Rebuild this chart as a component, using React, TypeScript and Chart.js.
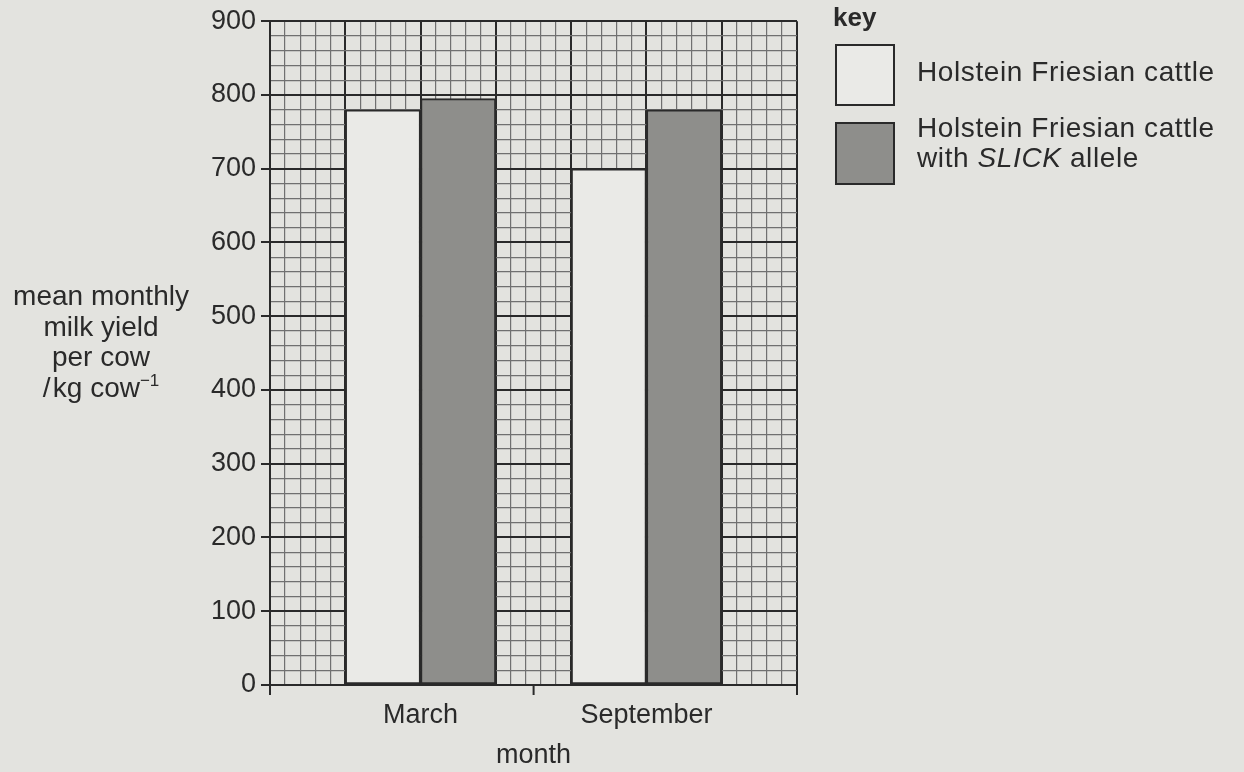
import React, { useEffect, useRef } from "react";
import { Chart, registerables } from "chart.js";

Chart.register(...registerables);

// ---- data ----
const months = ["March", "September"];
const holsteinValues = [780, 700];
const slickValues = [795, 780];
const seriesLabels = ["Holstein Friesian cattle", "Holstein Friesian cattle with SLICK allele"];
const yMax = 900;
const yMajorStep = 100;
const yMinorStep = 20;
// x runs over the 7 big grid columns of the graph paper
const gridColumns = 7;
const minorPerColumn = 5;
const monthColumns = [2, 5]; // where each month label sits on the grid
const xTickMarks = [0, 3.5, 7]; // tick marks drawn under the x axis

// ---- styles ----
const paper = "#e3e3df";
const ink = "#2a2a2a";
const minorLine = "#707070";
const whiteFill = "#eaeae7";
const greyFill = "#8e8e8b";
const family = "'Liberation Sans', Arial, Helvetica, sans-serif";

const yTickValues: number[] = [];
for (let v = 0; v <= yMax; v += yMinorStep) yTickValues.push(v);
const xTickValues: number[] = [];
for (let i = 0; i <= gridColumns * minorPerColumn; i++) {
  const v = i / minorPerColumn;
  xTickValues.push(v);
  if (v < 3.5 && (i + 1) / minorPerColumn > 3.5) xTickValues.push(3.5);
}

function App() {
  const ref = useRef<HTMLCanvasElement | null>(null);

  useEffect(() => {
    if (!ref.current) return;
    Chart.defaults.font.family = family;
    const chart = new Chart(ref.current, {
      type: "bar",
      data: {
        datasets: [
          {
            label: seriesLabels[0],
            data: months.map((_, i) => ({ x: monthColumns[i] - 0.5, y: holsteinValues[i] })),
            backgroundColor: whiteFill,
            borderColor: ink,
            borderWidth: 2,
            borderSkipped: false,
            barPercentage: 1,
            categoryPercentage: 1,
            grouped: false,
          } as any,
          {
            label: seriesLabels[1],
            data: months.map((_, i) => ({ x: monthColumns[i] + 0.5, y: slickValues[i] })),
            backgroundColor: greyFill,
            borderColor: ink,
            borderWidth: 2,
            borderSkipped: false,
            barPercentage: 1,
            categoryPercentage: 1,
            grouped: false,
          } as any,
        ],
      },
      options: {
        animation: false,
        responsive: false,
        devicePixelRatio: 1,
        layout: { padding: { top: 20, right: 447, left: 0, bottom: 0 } },
        plugins: { legend: { display: false }, tooltip: { enabled: false } },
        scales: {
          x: {
            type: "linear",
            min: 0,
            max: gridColumns,
            offset: false,
            display: false,
            grid: { offset: false },
            ticks: { stepSize: 1 },
          },
          xg: {
            type: "linear",
            axis: "x",
            position: "bottom",
            min: 0,
            max: gridColumns,
            offset: false,
            afterBuildTicks: (s: any) => {
              s.ticks = xTickValues.map((v) => ({ value: v }));
            },
            afterFit: (s: any) => {
              s.height = 87;
            },
            grid: {
              offset: false,
              color: (c: any) => {
                const v = c.tick?.value;
                if (v === 3.5) return "rgba(0,0,0,0)";
                return Number.isInteger(v) ? ink : minorLine;
              },
              lineWidth: (c: any) => (Number.isInteger(c.tick?.value) ? 2 : 1.2),
              tickColor: (c: any) => (xTickMarks.includes(c.tick?.value) ? ink : "rgba(0,0,0,0)"),
              tickLength: 10,
              tickWidth: 2,
            },
            border: { display: true, color: ink, width: 2 },
            ticks: {
              autoSkip: false,
              maxRotation: 0,
              padding: 4,
              color: ink,
              font: { size: 27 },
              callback: (v: any) => {
                const i = monthColumns.indexOf(Number(v));
                return i >= 0 ? months[i] : "";
              },
            },
            title: {
              display: true,
              text: "month",
              color: ink,
              font: { size: 27 },
              padding: { top: 0, bottom: 0 },
            },
          } as any,
          y: {
            type: "linear",
            min: 0,
            max: yMax,
            afterBuildTicks: (s: any) => {
              s.ticks = yTickValues.map((v) => ({ value: v }));
            },
            afterFit: (s: any) => {
              s.width = 270;
            },
            grid: {
              color: (c: any) => (c.tick?.value % yMajorStep === 0 ? ink : minorLine),
              lineWidth: (c: any) => (c.tick?.value % yMajorStep === 0 ? 2 : 1.2),
              tickColor: (c: any) => (c.tick?.value % yMajorStep === 0 ? ink : "rgba(0,0,0,0)"),
              tickLength: 9,
              tickWidth: 2,
            },
            border: { display: true, color: ink, width: 2 },
            ticks: {
              autoSkip: false,
              padding: 5,
              color: ink,
              font: { size: 27 },
              callback: (v: any) => (Number(v) % yMajorStep === 0 ? String(v) : ""),
            },
          } as any,
        },
      },
    });
    return () => chart.destroy();
  }, []);

  const text: React.CSSProperties = {
    position: "absolute",
    fontFamily: family,
    color: ink,
    whiteSpace: "nowrap",
  };

  return (
    <div style={{ position: "fixed", left: 0, top: 0, width: 1244, height: 772, background: paper, overflow: "hidden" }}>
      <canvas ref={ref} width={1244} height={772} style={{ display: "block", position: "absolute", left: 0, top: 0 }} />
      <div style={{ ...text, left: 0, top: 281, width: 202, textAlign: "center", fontSize: 28, lineHeight: "30.5px" }}>
        mean monthly
        <br />
        milk yield
        <br />
        per cow
        <br />
        /&#8202;kg cow
        <span style={{ fontSize: 17, position: "relative", top: -11 }}>−1</span>
      </div>
      <div style={{ ...text, left: 833, top: 2, fontSize: 26, fontWeight: "bold", lineHeight: "30px" }}>key</div>
      <div style={{ position: "absolute", left: 835, top: 44, width: 60, height: 62, boxSizing: "border-box", border: `2px solid ${ink}`, background: whiteFill }} />
      <div style={{ ...text, left: 917, top: 57, fontSize: 28, lineHeight: "30px", letterSpacing: 0.6 }}>{seriesLabels[0]}</div>
      <div style={{ position: "absolute", left: 835, top: 122, width: 60, height: 63, boxSizing: "border-box", border: `2px solid ${ink}`, background: greyFill }} />
      <div style={{ ...text, left: 917, top: 113, fontSize: 28, lineHeight: "30px", letterSpacing: 0.6 }}>
        Holstein Friesian cattle
        <br />
        with <i>SLICK</i> allele
      </div>
    </div>
  );
}

export default App;
